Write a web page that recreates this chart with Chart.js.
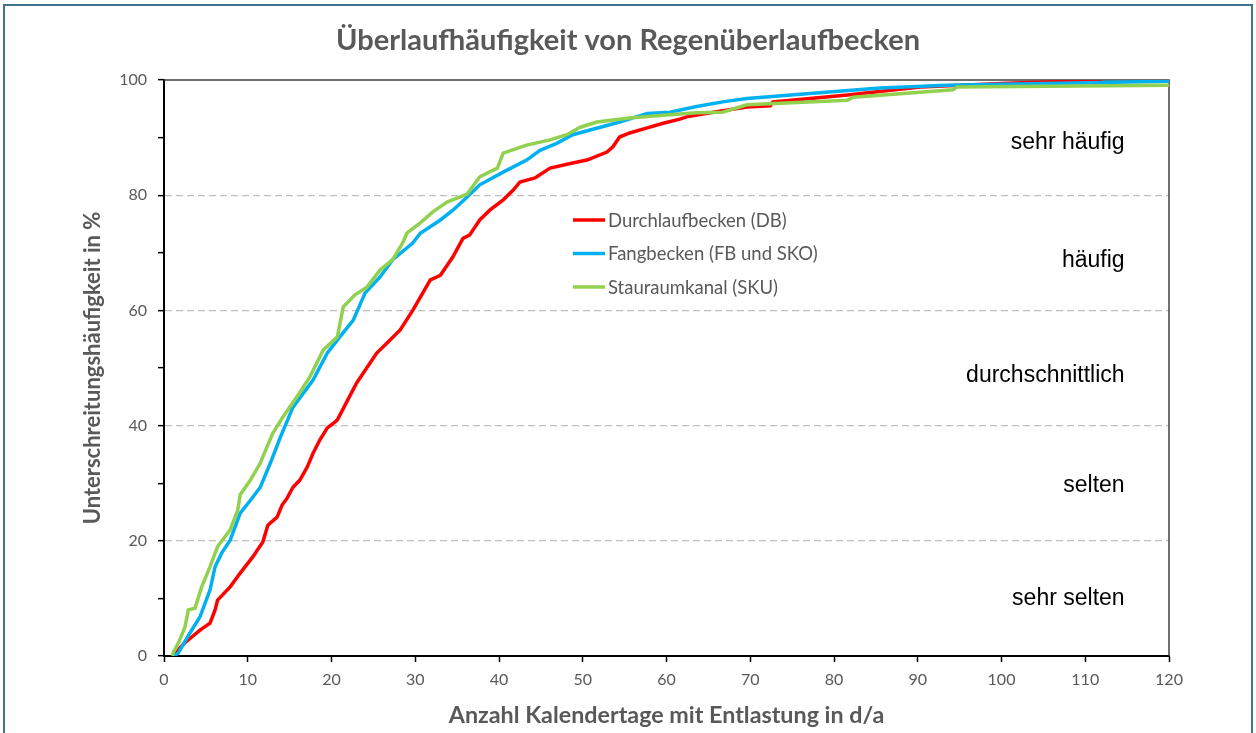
<!DOCTYPE html>
<html>
<head>
<meta charset="utf-8">
<script src="https://cdn.jsdelivr.net/npm/chart.js@4/dist/chart.umd.min.js"></script>
<style>
  html, body { margin:0; padding:0; background:#fff; overflow:hidden; }
  #wrap { position:absolute; left:0; top:0; width:1256px; height:733px; }
  #frame { position:absolute; left:3px; top:4px; width:1250px; height:760px; border:2px solid #41718d; box-sizing:border-box; pointer-events:none; }
</style>
</head>
<body>
<div id="wrap"><canvas id="c" width="1256" height="733"></canvas></div>
<div id="frame"></div>
<script>
// values (days per year vs. percent)
const seriesNames = ['Durchlaufbecken (DB)', 'Fangbecken (FB und SKO)', 'Stauraumkanal (SKU)'];
const seriesColors = ['#ff0000', '#00b0f0', '#92d050'];

const dbX = [1.2, 1.9, 2.5, 4.3, 5.5, 6.1, 6.4, 7.9, 9.1, 10.6, 11.8, 12.4, 13.5, 14.1, 14.7, 15.4, 16.2, 17.1, 17.8, 18.6, 19.5, 20.4, 20.7, 23.0, 25.4, 26.6, 28.2, 29.7, 31.8, 33.0, 34.5, 35.7, 36.5, 37.7, 38.9, 40.5, 41.7, 42.5, 44.3, 46.1, 48.8, 50.5, 52.9, 53.6, 54.4, 55.6, 57.7, 59.6, 61.6, 62.4, 65.6, 69.6, 72.4, 72.7, 81.6, 90.3, 101.4, 112.1];
const dbY = [0, 1.4, 2.3, 4.5, 5.7, 8, 9.7, 12, 14.4, 17.2, 19.8, 22.7, 24.1, 26.2, 27.4, 29.3, 30.5, 32.8, 35.2, 37.5, 39.6, 40.6, 41, 47.4, 52.6, 54.3, 56.6, 60, 65.3, 66.1, 69.3, 72.5, 73.1, 75.7, 77.4, 79.2, 80.9, 82.3, 83, 84.7, 85.6, 86.1, 87.5, 88.4, 90.1, 90.8, 91.7, 92.5, 93.2, 93.6, 94.4, 95.3, 95.5, 96.2, 97.4, 98.8, 99.5, 99.9];

const fbX = [1.2, 1.7, 3.1, 4.3, 5.5, 6.1, 6.9, 7.9, 9.1, 10.3, 11.5, 12.7, 13.9, 15.4, 17.8, 19.5, 21.0, 22.6, 24.0, 25.8, 27.3, 29.7, 30.6, 33.0, 34.5, 36.2, 37.7, 40.5, 43.3, 44.9, 46.9, 48.8, 52.1, 54.4, 57.7, 60.4, 63.6, 66.7, 69.6, 77.5, 85.5, 93.5, 116.9, 120];
const fbY = [0, 0.5, 4, 6.8, 11.5, 15.5, 17.9, 20.1, 24.8, 27, 29.3, 33.5, 38, 43.2, 47.9, 52.6, 55.4, 58.3, 63, 65.8, 68.8, 71.7, 73.4, 75.7, 77.4, 79.7, 81.8, 84, 86.1, 87.8, 89, 90.5, 91.8, 92.7, 94.2, 94.4, 95.4, 96.2, 96.8, 97.7, 98.6, 99.1, 99.7, 99.8];

const skuX = [1.0, 1.1, 1.7, 2.5, 2.9, 3.7, 4.5, 5.5, 6.4, 7.9, 8.8, 9.1, 10.3, 11.5, 12.3, 13.0, 14.2, 16.2, 17.4, 19.0, 20.7, 21.4, 22.8, 24.2, 25.8, 27.3, 28.5, 29.0, 30.6, 32.1, 33.8, 36.2, 37.7, 39.8, 40.5, 43.3, 46.1, 48.1, 49.7, 51.7, 55.6, 59.6, 63.6, 66.7, 69.6, 81.6, 82.3, 94.2, 94.7, 120];
const skuY = [0, 0.6, 2.2, 5, 8, 8.3, 12, 15.5, 19, 21.9, 25.3, 28, 30.5, 33.5, 36.3, 38.7, 41.5, 45.7, 48.4, 53.1, 55.4, 60.6, 62.7, 64, 67, 68.8, 71.7, 73.4, 75.2, 77.1, 78.8, 80.2, 83.2, 84.7, 87.3, 88.7, 89.6, 90.5, 91.8, 92.7, 93.4, 93.9, 94.3, 94.4, 95.7, 96.5, 97, 98.3, 98.8, 99.1];

const xTicks = [0, 10, 20, 30, 40, 50, 60, 70, 80, 90, 100, 110, 120];
const yTicks = [0, 10, 20, 30, 40, 50, 60, 70, 80, 90, 100];
const yLabelled = [0, 20, 40, 60, 80, 100];
const dashedAt = [20, 40, 60, 80];

// frequency classes written at the right of the plot
const bandLabels = ['sehr häufig', 'häufig', 'durchschnittlich', 'selten', 'sehr selten'];
const bandY = [89.2, 68.6, 48.6, 29.5, 10.0];
const bandX = 114.7;

const chartTitle = 'Überlaufhäufigkeit von Regenüberlaufbecken';

const GREY = '#595959';
const FONT = 'Lato, "Open Sans", sans-serif';

function pts(xs, ys){ return xs.map((x,i)=>({x, y: ys[i]})); }

const seriesData = [pts(dbX, dbY), pts(fbX, fbY), pts(skuX, skuY)];

const frameLines = {
  id:'frameLines',
  beforeDatasetsDraw(chart){
    const {ctx, chartArea:a} = chart;
    ctx.save();
    ctx.strokeStyle = '#404040';
    ctx.lineWidth = 1.5;
    ctx.beginPath();
    ctx.moveTo(a.left, a.top);
    ctx.lineTo(a.right, a.top);
    ctx.lineTo(a.right, a.bottom);
    ctx.stroke();
    ctx.restore();
  }
};

// title is centred on the whole picture, not on the plot
const pageTitle = {
  id:'pageTitle',
  afterDraw(chart){
    const {ctx} = chart;
    ctx.save();
    ctx.font = 'bold 29px ' + FONT;
    ctx.fillStyle = GREY;
    ctx.textAlign = 'center';
    ctx.textBaseline = 'middle';
    ctx.fillText(chartTitle, chart.width/2, 41);
    ctx.restore();
  }
};

const bandText = {
  id:'bandText',
  afterDatasetsDraw(chart){
    const {ctx, scales:{x, y}} = chart;
    ctx.save();
    ctx.font = '23px "Liberation Sans", Arial, sans-serif';
    ctx.fillStyle = '#000';
    ctx.textAlign = 'right';
    ctx.textBaseline = 'middle';
    bandLabels.forEach((t,i)=> ctx.fillText(t, x.getPixelForValue(bandX), y.getPixelForValue(bandY[i])));
    ctx.restore();
  }
};

// legend sits inside the plot, like in the spreadsheet original
const innerLegend = {
  id:'innerLegend',
  afterDraw(chart){
    const {ctx} = chart;
    const left = 573, top = 220, gap = 33.5;
    ctx.save();
    ctx.font = '18.5px ' + FONT;
    ctx.textBaseline = 'middle';
    ctx.textAlign = 'left';
    chart.data.datasets.forEach((ds,i)=>{
      const yy = top + gap*i;
      ctx.strokeStyle = ds.borderColor;
      ctx.lineWidth = 3.5;
      ctx.beginPath(); ctx.moveTo(left, yy); ctx.lineTo(left+32, yy); ctx.stroke();
      ctx.fillStyle = GREY;
      ctx.fillText(ds.label, left+35, yy+1);
    });
    ctx.restore();
  }
};

new Chart(document.getElementById('c'), {
  type:'line',
  data:{
    datasets: seriesNames.map((n,i)=>({
      label:n,
      data: seriesData[i],
      borderColor: seriesColors[i],
      backgroundColor: seriesColors[i],
      borderWidth: 3.5,
      pointRadius: 0,
      tension: 0,
      fill: false,
      order: 3 - i
    }))
  },
  options:{
    responsive:false,
    animation:false,
    events:[],
    layout:{ padding:{ left:0, right:87, top:80, bottom:0 } },
    plugins:{
      legend:{ display:false },
      tooltip:{ enabled:false },
      title:{ display:false }
    },
    scales:{
      x:{
        type:'linear', min:0, max:120,
        afterBuildTicks: s => { s.ticks = xTicks.map(v=>({value:v})); },
        afterFit: s => { s.height = 77; },
        ticks:{ color:GREY, font:{ family:FONT, size:16 }, padding:8, autoSkip:false, maxRotation:0 },
        grid:{ drawOnChartArea:false, tickLength:6, tickColor:'#000', tickWidth:1.5 },
        border:{ color:'#000', width:2 },
        title:{ display:true, text:'Anzahl Kalendertage mit Entlastung in d/a', color:GREY,
                font:{ family:FONT, size:23.3, weight:'bold' }, padding:{ top:0, bottom:4 } }
      },
      y:{
        type:'linear', min:0, max:100,
        afterBuildTicks: s => { s.ticks = yTicks.map(v=>({value:v})); },
        afterFit: s => { s.width = 164; },
        ticks:{ color:GREY, font:{ family:FONT, size:16 }, padding:11, autoSkip:false,
                callback: v => yLabelled.includes(v) ? v : '' },
        grid:{
          color: c => (c.tick && dashedAt.includes(c.tick.value)) ? '#bfbfbf' : 'rgba(0,0,0,0)',
          lineWidth:1.3, tickLength:6, tickColor:'#000', tickWidth:1.5
        },
        border:{ color:'#000', width:2, dash:[7,4] },
        title:{ display:true, text:'Unterschreitungshäufigkeit in %', color:GREY,
                font:{ family:FONT, size:22, weight:'bold' }, padding:{ top:80, bottom:0 } }
      }
    }
  },
  plugins:[frameLines, bandText, innerLegend, pageTitle]
});
</script>
</body>
</html>
